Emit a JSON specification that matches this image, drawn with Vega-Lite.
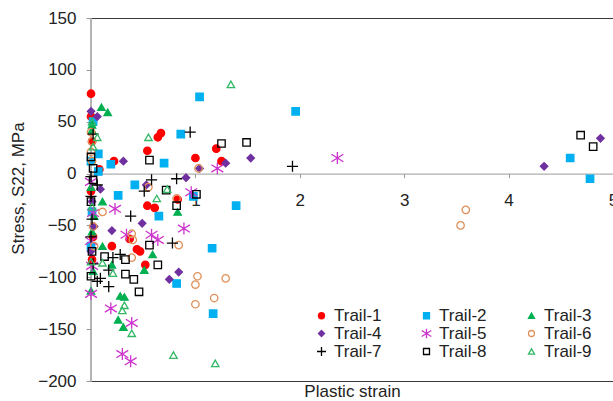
{
  "$schema": "https://vega.github.io/schema/vega-lite/v6.json",
  "width": 522,
  "height": 363,
  "autosize": {"type": "none"},
  "padding": {"left": 91, "top": 18, "right": 0, "bottom": 20},
  "background": "white",
  "config": {
    "view": {"stroke": null},
    "font": "Liberation Sans",
    "axis": {"grid": false, "labelColor": "#222", "titleColor": "#222", "labelFontSize": 17, "titleFontSize": 17, "titleFontWeight": "normal"},
    "legend": {
      "orient": "none", "legendX": 222, "legendY": 289, "columns": 3, "direction": "horizontal",
      "padding": 0, "labelFontSize": 17, "labelColor": "#222", "labelOffset": 4,
      "columnPadding": 36, "rowPadding": 0, "symbolSize": 36, "symbolStrokeWidth": 1.3
    }
  },
  "datasets": {
    "trails": [
      {"s": "Trail-1", "x": 0, "y": 77}, {"s": "Trail-1", "x": 0, "y": 55}, {"s": "Trail-1", "x": 0.22, "y": 12}, {"s": "Trail-1", "x": 0.08, "y": 4},
      {"s": "Trail-1", "x": 0.54, "y": 22}, {"s": "Trail-1", "x": 0.64, "y": 35}, {"s": "Trail-1", "x": 0.67, "y": 39}, {"s": "Trail-1", "x": 1.0, "y": 15},
      {"s": "Trail-1", "x": 1.2, "y": 24}, {"s": "Trail-1", "x": 1.25, "y": 12}, {"s": "Trail-1", "x": 0.54, "y": -31}, {"s": "Trail-1", "x": 0.61, "y": -33},
      {"s": "Trail-1", "x": 0.83, "y": -25}, {"s": "Trail-1", "x": 0.2, "y": -70}, {"s": "Trail-1", "x": 0.37, "y": -63}, {"s": "Trail-1", "x": 0.44, "y": -73},
      {"s": "Trail-1", "x": 0.52, "y": -88}, {"s": "Trail-1", "x": 0.47, "y": -75}, {"s": "Trail-1", "x": 0, "y": -17}, {"s": "Trail-1", "x": 0.02, "y": -61},
      {"s": "Trail-1", "x": 0.01, "y": -83}, {"s": "Trail-1", "x": 0.01, "y": 31},

      {"s": "Trail-2", "x": 0.02, "y": 50}, {"s": "Trail-2", "x": 0.07, "y": 19}, {"s": "Trail-2", "x": 0.19, "y": 9}, {"s": "Trail-2", "x": 0.07, "y": 2},
      {"s": "Trail-2", "x": 0.42, "y": -11}, {"s": "Trail-2", "x": 0.26, "y": -21}, {"s": "Trail-2", "x": 0.7, "y": 10}, {"s": "Trail-2", "x": 0.86, "y": 38},
      {"s": "Trail-2", "x": 1.04, "y": 74}, {"s": "Trail-2", "x": 1.96, "y": 60}, {"s": "Trail-2", "x": 0.65, "y": -41}, {"s": "Trail-2", "x": 1.39, "y": -31},
      {"s": "Trail-2", "x": 0.98, "y": -22}, {"s": "Trail-2", "x": 1.16, "y": -72}, {"s": "Trail-2", "x": 1.17, "y": -135}, {"s": "Trail-2", "x": 0.82, "y": -106},
      {"s": "Trail-2", "x": 4.59, "y": 15}, {"s": "Trail-2", "x": 4.78, "y": -5}, {"s": "Trail-2", "x": 0, "y": 12}, {"s": "Trail-2", "x": 0.01, "y": -37},
      {"s": "Trail-2", "x": 0, "y": -70},

      {"s": "Trail-3", "x": 0.1, "y": 64}, {"s": "Trail-3", "x": 0.16, "y": 59}, {"s": "Trail-3", "x": 0.01, "y": 47}, {"s": "Trail-3", "x": 0.01, "y": 42},
      {"s": "Trail-3", "x": 0.11, "y": -27}, {"s": "Trail-3", "x": 0.11, "y": -70}, {"s": "Trail-3", "x": 0.2, "y": -88}, {"s": "Trail-3", "x": 0.28, "y": -118},
      {"s": "Trail-3", "x": 0.32, "y": -119}, {"s": "Trail-3", "x": 0.26, "y": -141}, {"s": "Trail-3", "x": 0.31, "y": -148}, {"s": "Trail-3", "x": 0.51, "y": -93},
      {"s": "Trail-3", "x": 0.59, "y": -78}, {"s": "Trail-3", "x": 0.83, "y": -37}, {"s": "Trail-3", "x": 0, "y": -13}, {"s": "Trail-3", "x": 0.01, "y": -56},
      {"s": "Trail-3", "x": 0.02, "y": -94}, {"s": "Trail-3", "x": 0, "y": -113}, {"s": "Trail-3", "x": 0.03, "y": -41},

      {"s": "Trail-4", "x": 0, "y": 60}, {"s": "Trail-4", "x": 0.06, "y": 55}, {"s": "Trail-4", "x": 0.31, "y": 12}, {"s": "Trail-4", "x": 0.91, "y": -4},
      {"s": "Trail-4", "x": 0.53, "y": -11}, {"s": "Trail-4", "x": 1.29, "y": 10}, {"s": "Trail-4", "x": 1.53, "y": 15}, {"s": "Trail-4", "x": 1.04, "y": 5},
      {"s": "Trail-4", "x": 0.09, "y": -15}, {"s": "Trail-4", "x": 0.49, "y": -48}, {"s": "Trail-4", "x": 0.2, "y": -55}, {"s": "Trail-4", "x": 0.75, "y": -102},
      {"s": "Trail-4", "x": 0.84, "y": -95}, {"s": "Trail-4", "x": 4.34, "y": 7}, {"s": "Trail-4", "x": 4.88, "y": 34}, {"s": "Trail-4", "x": 0.01, "y": -27},
      {"s": "Trail-4", "x": 0.03, "y": -51}, {"s": "Trail-4", "x": 0, "y": -75},

      {"s": "Trail-5", "x": 0.23, "y": -34}, {"s": "Trail-5", "x": 0.96, "y": -18}, {"s": "Trail-5", "x": 1.21, "y": 5}, {"s": "Trail-5", "x": 0.89, "y": -53},
      {"s": "Trail-5", "x": 0.58, "y": -59}, {"s": "Trail-5", "x": 0.34, "y": -59}, {"s": "Trail-5", "x": 0.64, "y": -64}, {"s": "Trail-5", "x": 0, "y": -116},
      {"s": "Trail-5", "x": 0.19, "y": -130}, {"s": "Trail-5", "x": 0.39, "y": -144}, {"s": "Trail-5", "x": 0.3, "y": -174}, {"s": "Trail-5", "x": 0.38, "y": -181},
      {"s": "Trail-5", "x": 2.36, "y": 15}, {"s": "Trail-5", "x": 0, "y": -8}, {"s": "Trail-5", "x": 0.02, "y": -38}, {"s": "Trail-5", "x": 0, "y": -65},
      {"s": "Trail-5", "x": 0.01, "y": -89},

      {"s": "Trail-6", "x": 1.03, "y": 5}, {"s": "Trail-6", "x": 0.55, "y": -13}, {"s": "Trail-6", "x": 0.82, "y": -24}, {"s": "Trail-6", "x": 0.11, "y": -37},
      {"s": "Trail-6", "x": 0.39, "y": -58}, {"s": "Trail-6", "x": 0.4, "y": -64}, {"s": "Trail-6", "x": 0.39, "y": -81}, {"s": "Trail-6", "x": 0.84, "y": -69},
      {"s": "Trail-6", "x": 1.02, "y": -99}, {"s": "Trail-6", "x": 1.0, "y": -107}, {"s": "Trail-6", "x": 1.29, "y": -101}, {"s": "Trail-6", "x": 1.18, "y": -120},
      {"s": "Trail-6", "x": 1.0, "y": -126}, {"s": "Trail-6", "x": 3.59, "y": -35}, {"s": "Trail-6", "x": 3.54, "y": -50}, {"s": "Trail-6", "x": 0, "y": 40},
      {"s": "Trail-6", "x": 0.01, "y": 31}, {"s": "Trail-6", "x": 0, "y": 21}, {"s": "Trail-6", "x": 0.01, "y": 12}, {"s": "Trail-6", "x": 0.02, "y": -51},
      {"s": "Trail-6", "x": 0.03, "y": -70},

      {"s": "Trail-7", "x": 0.02, "y": 38}, {"s": "Trail-7", "x": 0.58, "y": -6}, {"s": "Trail-7", "x": 0.82, "y": -5}, {"s": "Trail-7", "x": 0.95, "y": 40},
      {"s": "Trail-7", "x": 0.51, "y": -17}, {"s": "Trail-7", "x": 0.06, "y": -11}, {"s": "Trail-7", "x": 0.38, "y": -41}, {"s": "Trail-7", "x": 1.93, "y": 7},
      {"s": "Trail-7", "x": 0.78, "y": -67}, {"s": "Trail-7", "x": 0.21, "y": -81}, {"s": "Trail-7", "x": 0.28, "y": -78}, {"s": "Trail-7", "x": 0.17, "y": -93},
      {"s": "Trail-7", "x": 0.09, "y": -101}, {"s": "Trail-7", "x": 0.06, "y": -104}, {"s": "Trail-7", "x": 0.17, "y": -109}, {"s": "Trail-7", "x": 0, "y": -3},
      {"s": "Trail-7", "x": 0, "y": -22}, {"s": "Trail-7", "x": 0.01, "y": -44}, {"s": "Trail-7", "x": 0, "y": -61}, {"s": "Trail-7", "x": 0.02, "y": -87},

      {"s": "Trail-8", "x": 0.56, "y": 13}, {"s": "Trail-8", "x": 1.01, "y": -20}, {"s": "Trail-8", "x": 0.72, "y": -16}, {"s": "Trail-8", "x": 1.25, "y": 29},
      {"s": "Trail-8", "x": 1.49, "y": 30}, {"s": "Trail-8", "x": 0.82, "y": -31}, {"s": "Trail-8", "x": 0.56, "y": -69}, {"s": "Trail-8", "x": 0.64, "y": -88},
      {"s": "Trail-8", "x": 0.13, "y": -80}, {"s": "Trail-8", "x": 0.33, "y": -83}, {"s": "Trail-8", "x": 0.33, "y": -97}, {"s": "Trail-8", "x": 0.41, "y": -102},
      {"s": "Trail-8", "x": 0.46, "y": -114}, {"s": "Trail-8", "x": 4.69, "y": 37}, {"s": "Trail-8", "x": 4.81, "y": 26}, {"s": "Trail-8", "x": 0, "y": 16},
      {"s": "Trail-8", "x": 0.02, "y": 5}, {"s": "Trail-8", "x": 0.02, "y": -6}, {"s": "Trail-8", "x": 0, "y": -27}, {"s": "Trail-8", "x": 0.01, "y": -75},
      {"s": "Trail-8", "x": 0, "y": -99},

      {"s": "Trail-9", "x": 1.34, "y": 86}, {"s": "Trail-9", "x": 0.55, "y": 35}, {"s": "Trail-9", "x": 0.06, "y": 35}, {"s": "Trail-9", "x": 0.63, "y": -24},
      {"s": "Trail-9", "x": 0.73, "y": -15}, {"s": "Trail-9", "x": 0.3, "y": -132}, {"s": "Trail-9", "x": 0.32, "y": -127}, {"s": "Trail-9", "x": 0.39, "y": -154},
      {"s": "Trail-9", "x": 0.79, "y": -175}, {"s": "Trail-9", "x": 1.19, "y": -183}, {"s": "Trail-9", "x": 0.21, "y": -96}, {"s": "Trail-9", "x": 0.11, "y": -86},
      {"s": "Trail-9", "x": 0.01, "y": 50}, {"s": "Trail-9", "x": 0.02, "y": 26}, {"s": "Trail-9", "x": 0.01, "y": -32}, {"s": "Trail-9", "x": 0, "y": -85}
    ],
    "origin": [{"x0": 0}]
  },
  "layer": [
    {
      "data": {"name": "origin"},
      "mark": {"type": "rule", "color": "#9a9a9a", "strokeWidth": 1},
      "encoding": {
        "x": {
          "field": "x0", "type": "quantitative",
          "scale": {"domain": [0, 5], "nice": false, "zero": false},
          "axis": {"orient": "top", "domainColor": "#3a3a3a", "domainWidth": 1.2, "ticks": false, "labels": false, "title": null}
        }
      }
    },
    {
      "data": {"name": "origin"},
      "mark": {"type": "rule", "color": "#9a9a9a", "strokeWidth": 1},
      "encoding": {
        "x": {
          "field": "x0", "type": "quantitative",
          "axis": {"orient": "bottom", "offset": 0, "domainColor": "#3a3a3a", "domainWidth": 1.2, "ticks": false, "labels": false, "title": "Plastic strain", "titlePadding": 2}
        }
      }
    },
    {
      "data": {"name": "trails"},
      "mark": {"type": "point", "size": 55, "strokeWidth": 1.3, "opacity": 1},
      "encoding": {
        "x": {
          "field": "x", "type": "quantitative",
          "axis": {"orient": "bottom", "offset": -207.4, "domainColor": "#9a9a9a", "values": [1, 2, 3, 4, 5], "labelFlush": false, "labelBound": false,
                   "tickColor": "#9a9a9a", "tickSize": 4, "labelPadding": 15, "title": null}
        },
        "y": {
          "field": "y", "type": "quantitative",
          "scale": {"domain": [-200, 150], "nice": false, "zero": false},
          "axis": {"values": [-200, -150, -100, -50, 0, 50, 100, 150], "domain": false, "tickColor": "#9a9a9a", "tickSize": 5, "labelPadding": 10,
                   "title": "Stress, S22, MPa", "titleX": -64, "titleY": 170}
        },
        "shape": {
          "field": "s", "type": "nominal", "legend": {"title": null},
          "scale": {
            "domain": ["Trail-1", "Trail-2", "Trail-3", "Trail-4", "Trail-5", "Trail-6", "Trail-7", "Trail-8", "Trail-9"],
            "range": ["circle", "square", "triangle-up", "diamond", "M-1.6,-1L1.6,1M-1.6,1L1.6,-1M0,-1.6L0,1.6", "circle", "M-1.5,0L1.5,0M0,-1.5L0,1.5", "square", "triangle-up"]
          }
        },
        "fill": {
          "field": "s", "type": "nominal", "legend": {"title": null},
          "scale": {
            "domain": ["Trail-1", "Trail-2", "Trail-3", "Trail-4", "Trail-5", "Trail-6", "Trail-7", "Trail-8", "Trail-9"],
            "range": ["#FF0000", "#00B0F0", "#00B050", "#7030A0", "transparent", "transparent", "transparent", "transparent", "transparent"]
          }
        },
        "stroke": {
          "field": "s", "type": "nominal", "legend": {"title": null},
          "scale": {
            "domain": ["Trail-1", "Trail-2", "Trail-3", "Trail-4", "Trail-5", "Trail-6", "Trail-7", "Trail-8", "Trail-9"],
            "range": ["#FF0000", "#00B0F0", "#00B050", "#7030A0", "#CC33CC", "#E0915A", "#000000", "#000000", "#33B866"]
          }
        }
      }
    }
  ]
}
